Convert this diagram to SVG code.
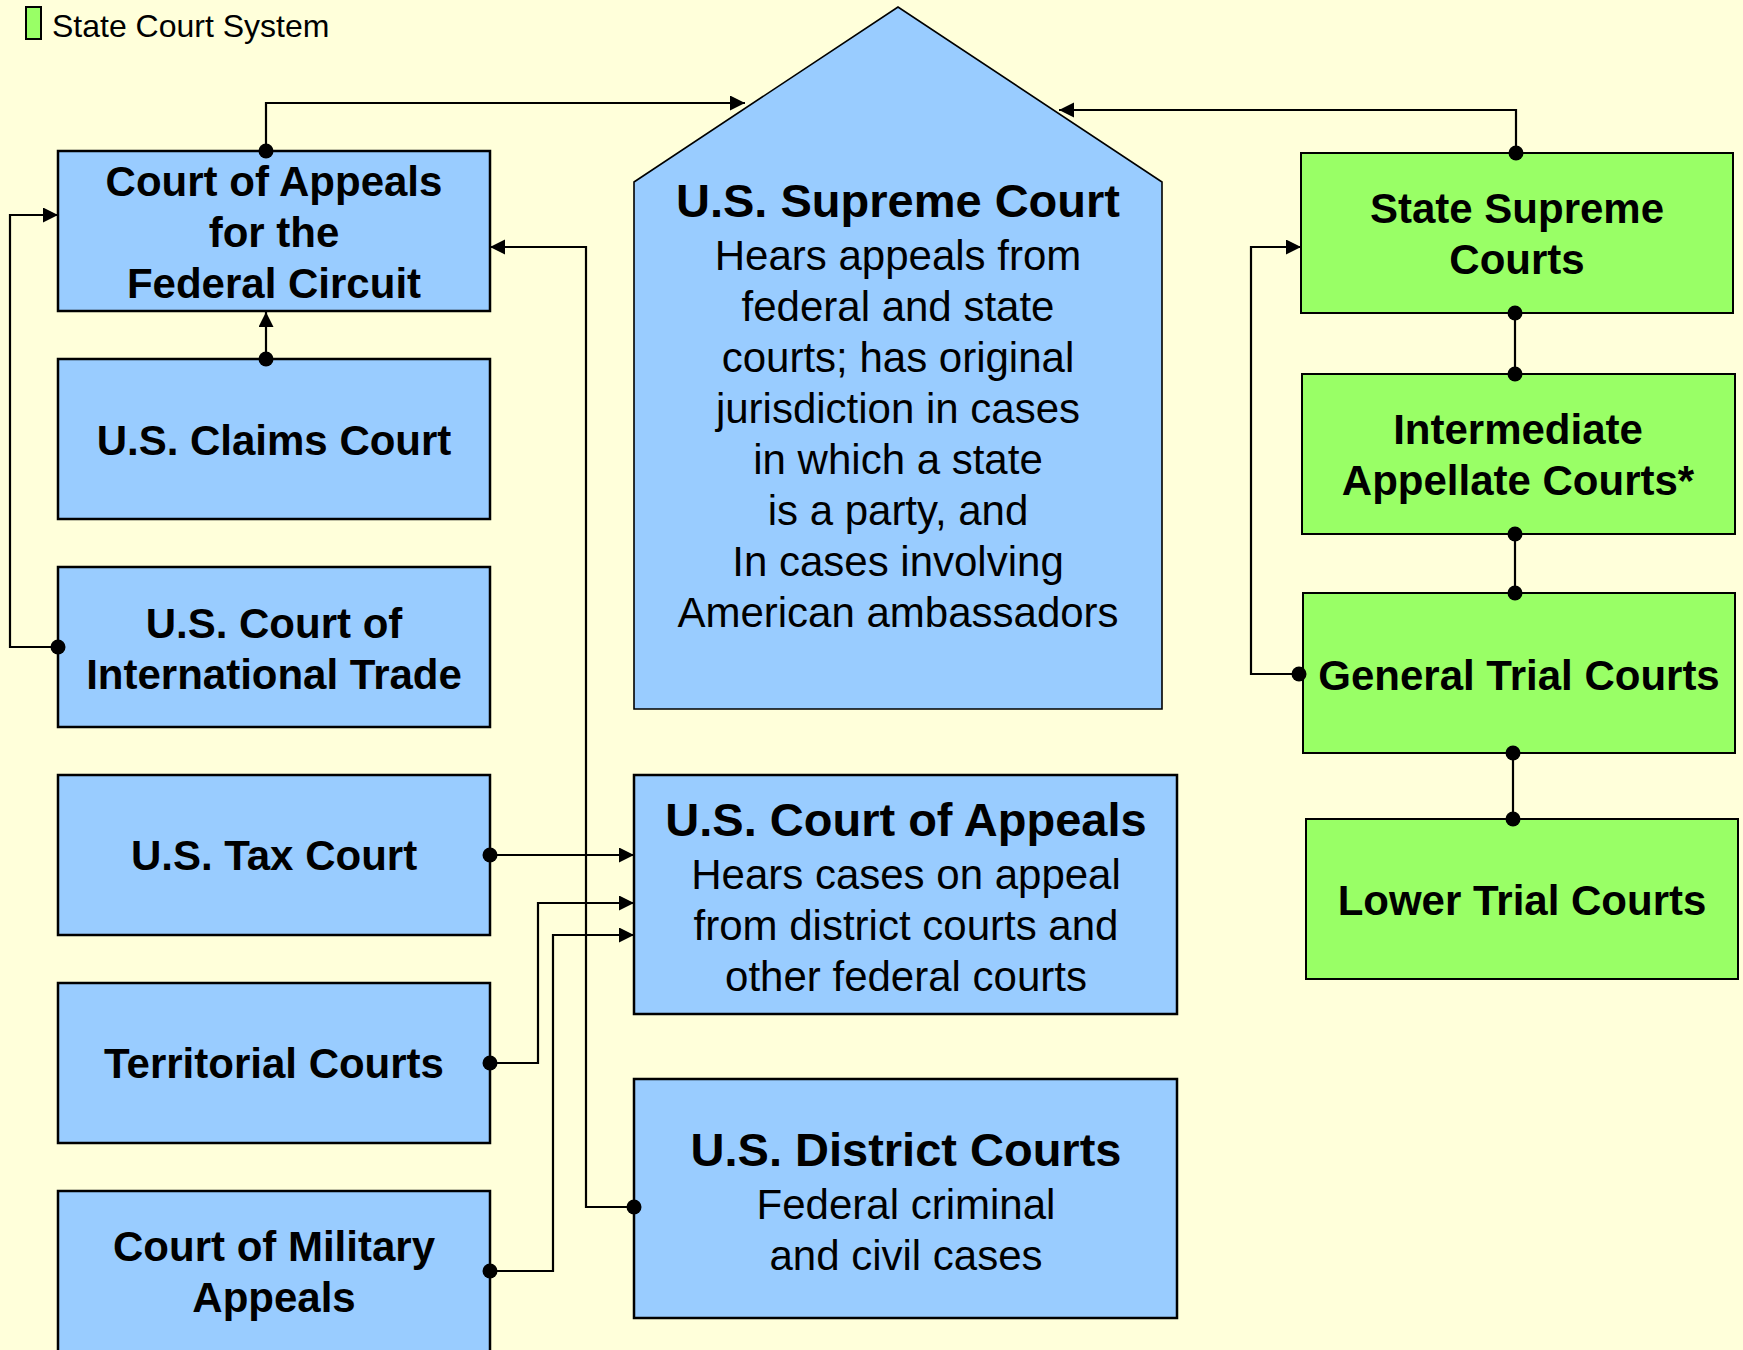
<svg xmlns="http://www.w3.org/2000/svg" width="1743" height="1350" viewBox="0 0 1743 1350">
<defs>
<style>
.bg{fill:#FFFFDA}
.fed{fill:#99CCFF;stroke:#000;stroke-width:2.5}
.sc{fill:#99CCFF;stroke:#000;stroke-width:1.6}
.st{fill:#99FF66;stroke:#000;stroke-width:2}
.b{font-family:"Liberation Sans",Arial,sans-serif;font-weight:bold;font-size:42px;fill:#000;text-anchor:middle}
.t{font-family:"Liberation Sans",Arial,sans-serif;font-weight:bold;font-size:47px;fill:#000;text-anchor:middle}
.r{font-family:"Liberation Sans",Arial,sans-serif;font-size:42px;fill:#000;text-anchor:middle}
.ln{fill:none;stroke:#000;stroke-width:2.2}
.dot{fill:#000}
</style>
<marker id="arr" markerUnits="userSpaceOnUse" markerWidth="16" markerHeight="16" refX="15" refY="7.5" orient="auto">
<path d="M0,0 L15,7.5 L0,15 z" fill="#000"/>
</marker>
</defs>
<rect class="bg" x="0" y="0" width="1743" height="1350"/>

<g id="legend">
<rect x="26" y="7" width="15" height="32" fill="#99FF66" stroke="#000" stroke-width="2"/>
<text x="52" y="37" font-family="Liberation Sans,Arial,sans-serif" font-size="32" fill="#000">State Court System</text>
</g>

<g id="supreme-court">
<polygon class="sc" points="634,182 898,7 1162,182 1162,709 634,709"/>
<text class="t" x="898" y="217">U.S. Supreme Court</text>
<text class="r" x="898" y="270">Hears appeals from</text>
<text class="r" x="898" y="321">federal and state</text>
<text class="r" x="898" y="372">courts; has original</text>
<text class="r" x="898" y="423">jurisdiction in cases</text>
<text class="r" x="898" y="474">in which a state</text>
<text class="r" x="898" y="525">is a party, and</text>
<text class="r" x="898" y="576">In cases involving</text>
<text class="r" x="898" y="627">American ambassadors</text>
</g>

<g id="federal-circuit">
<rect class="fed" x="58" y="151" width="432" height="160"/>
<text class="b" x="274" y="196">Court of Appeals</text>
<text class="b" x="274" y="247">for the</text>
<text class="b" x="274" y="298">Federal Circuit</text>
</g>
<g id="claims-court">
<rect class="fed" x="58" y="359" width="432" height="160"/>
<text class="b" x="274" y="455">U.S. Claims Court</text>
</g>
<g id="international-trade">
<rect class="fed" x="58" y="567" width="432" height="160"/>
<text class="b" x="274" y="638">U.S. Court of</text>
<text class="b" x="274" y="689">International Trade</text>
</g>
<g id="tax-court">
<rect class="fed" x="58" y="775" width="432" height="160"/>
<text class="b" x="274" y="870">U.S. Tax Court</text>
</g>
<g id="territorial-courts">
<rect class="fed" x="58" y="983" width="432" height="160"/>
<text class="b" x="274" y="1078">Territorial Courts</text>
</g>
<g id="military-appeals">
<rect class="fed" x="58" y="1191" width="432" height="180"/>
<text class="b" x="274" y="1261">Court of Military</text>
<text class="b" x="274" y="1312">Appeals</text>
</g>

<g id="court-of-appeals">
<rect class="fed" x="634" y="775" width="543" height="239"/>
<text class="t" x="906" y="836">U.S. Court of Appeals</text>
<text class="r" x="906" y="889">Hears cases on appeal</text>
<text class="r" x="906" y="940">from district courts and</text>
<text class="r" x="906" y="991">other federal courts</text>
</g>
<g id="district-courts">
<rect class="fed" x="634" y="1079" width="543" height="239"/>
<text class="t" x="906" y="1166">U.S. District Courts</text>
<text class="r" x="906" y="1219">Federal criminal</text>
<text class="r" x="906" y="1270">and civil cases</text>
</g>

<g id="state-supreme">
<rect class="st" x="1301" y="153" width="432" height="160"/>
<text class="b" x="1517" y="223">State Supreme</text>
<text class="b" x="1517" y="274">Courts</text>
</g>
<g id="intermediate-appellate">
<rect class="st" x="1302" y="374" width="433" height="160"/>
<text class="b" x="1518" y="444">Intermediate</text>
<text class="b" x="1518" y="495">Appellate Courts*</text>
</g>
<g id="general-trial">
<rect class="st" x="1303" y="593" width="432" height="160"/>
<text class="b" x="1519" y="690">General Trial Courts</text>
</g>
<g id="lower-trial">
<rect class="st" x="1306" y="819" width="432" height="160"/>
<text class="b" x="1522" y="915">Lower Trial Courts</text>
</g>

<g id="connectors">
<path class="ln" d="M266,151 V103 H745" marker-end="url(#arr)"/>
<circle class="dot" cx="266" cy="151" r="7.5"/>
<path class="ln" d="M266,359 V312" marker-end="url(#arr)"/>
<circle class="dot" cx="266" cy="359" r="7.5"/>
<path class="ln" d="M58,647 H10 V215 H58" marker-end="url(#arr)"/>
<circle class="dot" cx="58" cy="647" r="7.5"/>
<path class="ln" d="M634,1207 H586 V247 H490" marker-end="url(#arr)"/>
<circle class="dot" cx="634" cy="1207" r="7.5"/>
<path class="ln" d="M490,855 H634" marker-end="url(#arr)"/>
<circle class="dot" cx="490" cy="855" r="7.5"/>
<path class="ln" d="M490,1063 H538 V903 H634" marker-end="url(#arr)"/>
<circle class="dot" cx="490" cy="1063" r="7.5"/>
<path class="ln" d="M490,1271 H553 V935 H634" marker-end="url(#arr)"/>
<circle class="dot" cx="490" cy="1271" r="7.5"/>
<path class="ln" d="M1516,153 V110 H1059" marker-end="url(#arr)"/>
<circle class="dot" cx="1516" cy="153" r="7.5"/>
<path class="ln" d="M1515,313 V374"/>
<circle class="dot" cx="1515" cy="313" r="7.5"/>
<circle class="dot" cx="1515" cy="374" r="7.5"/>
<path class="ln" d="M1515,534 V593"/>
<circle class="dot" cx="1515" cy="534" r="7.5"/>
<circle class="dot" cx="1515" cy="593" r="7.5"/>
<path class="ln" d="M1513,753 V819"/>
<circle class="dot" cx="1513" cy="753" r="7.5"/>
<circle class="dot" cx="1513" cy="819" r="7.5"/>
<path class="ln" d="M1299,674 H1251 V247 H1301" marker-end="url(#arr)"/>
<circle class="dot" cx="1299" cy="674" r="7.5"/>
</g>
</svg>
